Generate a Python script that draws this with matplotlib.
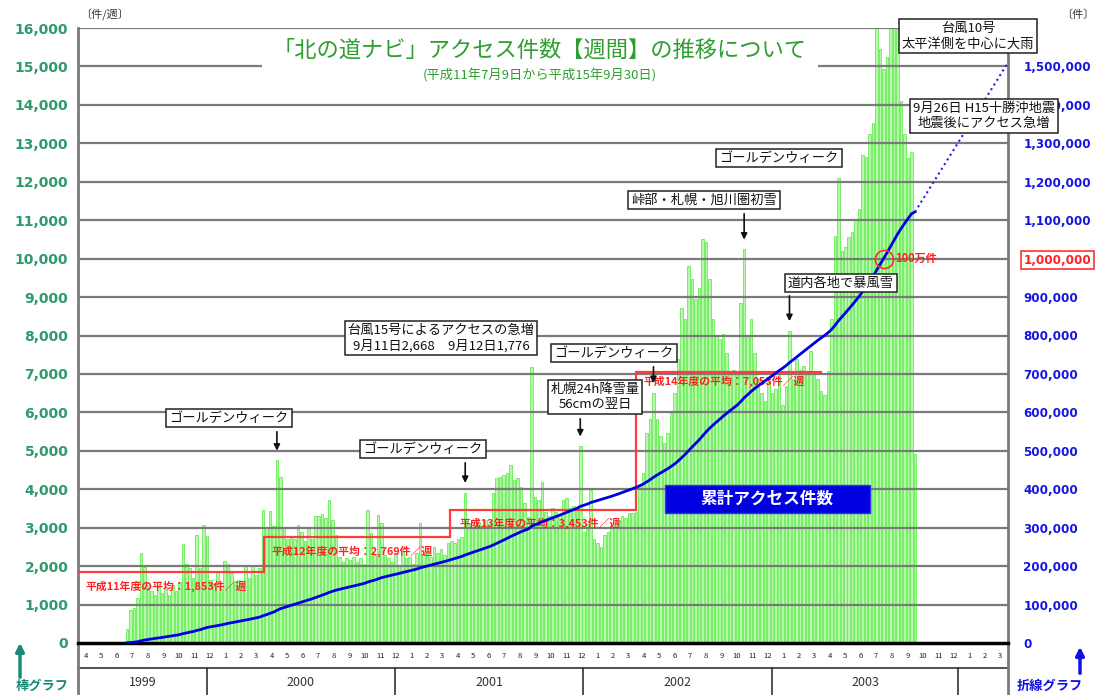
import numpy as np
import matplotlib
matplotlib.use("Agg")
import matplotlib.pyplot as plt
from matplotlib.patches import Rectangle, FancyArrowPatch

plt.rcParams['font.family'] = ['Noto Sans CJK JP', 'DejaVu Sans']

# weekly access counts, 1999-07-09 .. 2003-09-30
weekly = [
    370, 870, 900, 1170, 2340, 1970, 1500, 1350, 1250, 1450,
    1300, 1400, 1250, 1500, 1350, 1600, 2580, 2060, 1950, 1700,
    2820, 1950, 3060, 2780, 1650, 1550, 1870, 1400, 2130, 2060,
    1820, 1600, 1650, 1550, 2000, 1700, 2040, 1780, 1950, 3450,
    3000, 3430, 3040, 4750, 4310, 3000, 2700, 2750, 2700, 3060,
    2900, 2650, 2980, 2700, 3300, 3300, 3350, 3250, 3730, 3200,
    2800, 2250, 2100, 2200, 2150, 2250, 2100, 2200, 2050, 3460,
    2860, 2300, 3330, 3120, 2300, 2200, 2100, 2350, 2000, 2400,
    2200, 2250, 2050, 2350, 3130, 2300, 2400, 2250, 2500, 2350,
    2450, 2300, 2600, 2650, 2600, 2700, 2750, 3910, 3100, 3000,
    3200, 3150, 3050, 3200, 3100, 3900, 4290, 4330, 4370, 4420,
    4630, 4240, 4290, 4070, 3640, 3290, 7190, 3810, 3720, 4200,
    3400, 3300, 3500, 3400, 3350, 3720, 3770, 3500, 3560, 3500,
    5120, 2900, 3100, 3990, 2700, 2600, 2500, 2800, 2900, 3000,
    3040, 3200, 3300, 3250, 3380, 3380, 3400, 4080, 4430, 5470,
    5820, 6510, 5820, 5380, 5210, 5470, 5990, 6510, 7380, 8720,
    8420, 9810, 9460, 8940, 9240, 10500, 10420, 9460, 8420, 7990,
    7900, 8030, 7550, 7050, 7100, 7000, 8850, 10240, 7990, 8420,
    7550, 6900, 6500, 6300, 6800, 6500, 6600, 7030, 6200, 6680,
    8120, 6860, 7380, 7100, 7200, 7000, 7590, 7070, 6860, 6550,
    6450, 7070, 8420, 10600, 12090, 10190, 10300, 10550, 10700, 11000,
    11300, 12700, 12650, 13230, 13540, 16100, 15460, 14940, 15250, 16100,
    16100, 16100, 14110, 13230, 12610, 12770, 4920,
]

# fiscal year averages (件/週)
fy_edges = [0, 12, 24, 36, 48]
fy_avg = [1853, 2769, 3453, 7053]
fy_names = ['平成11年度', '平成12年度', '平成13年度', '平成14年度']

# projected cumulative total at end of March 2004
proj_x = 60
proj_total = 1510000

month_labels = ['4', '5', '6', '7', '8', '9', '10', '11', '12', '1', '2', '3'] * 5
years = ['1999', '2000', '2001', '2002', '2003', '']
year_edges = [0, 8.3, 20.45, 32.6, 44.8, 56.8, 60]

W, H = 1096, 695


def px(x, y):
    """pixel position -> (month, value) data coords"""
    return (x - 78) / 15.5, (643 - y) / 38.44 * 1000


fig = plt.figure(figsize=(W / 100, H / 100), dpi=100)
ax = fig.add_axes([78 / W, 52 / H, 930 / W, 615 / H])
ax2 = ax.twinx()
ax.set_zorder(ax2.get_zorder() + 1)
ax.patch.set_visible(False)

xpos = np.linspace(3.16, 54.0, len(weekly))
step = xpos[1] - xpos[0]
vals = np.array(weekly, dtype=float)
ax.bar(xpos, vals, width=step * 0.72, color='#b8f8ac', edgecolor='#66ec54',
       linewidth=0.6, zorder=1)

ax.set_xlim(0, 60)
ax.set_ylim(0, 16000)
ax2.set_ylim(0, 1600000)

# grid lines (drawn over the bars)
for v in range(1000, 16001, 1000):
    ax.axhline(v, color='#7a7a7a', lw=1.6, zorder=2)
# white patch behind the title
ax.add_patch(Rectangle(px(262, 86), (818 - 262) / 15.5, 50 / 38.44 * 1000,
                       facecolor='white', edgecolor='none', zorder=2.5))

# fiscal year average steps
ax.stairs(fy_avg, fy_edges, baseline=None, color='#ff3b3b', lw=1.6, zorder=3)
lab_pos = [(85, 586), (272, 551), (460, 523), (643, 381)]
for name, avg, (lx, ly) in zip(fy_names, fy_avg, lab_pos):
    ax.text(*px(lx, ly), f'{name}の平均：{avg:,}件／週', color='#ff2020',
            fontsize=7.8, fontweight='bold', ha='left', va='center', zorder=3)

# cumulative line (left scale = total / 100)
cum = np.cumsum(vals)
ax.plot(xpos, cum / 100, color='#0000e6', lw=2, zorder=4)
ax.plot([xpos[-1], proj_x], [cum[-1] / 100, proj_total / 100], color='#2020f0',
        lw=1.5, ls=':', zorder=4, clip_on=False)

# 1,000,000 crossing
i_m = int(np.argmax(cum >= 1000000))
ax.plot(xpos[i_m], 10000, 'o', ms=13, mfc='none', mec='#ff3030', mew=1.2, zorder=5)
ax.text(xpos[i_m] + 0.75, 10000, '100万件', color='#ff2020', fontsize=8,
        fontweight='bold', ha='left', va='center', zorder=5)

# axes styling
ax.spines['top'].set_visible(False)
ax.spines['left'].set_color('#7a7a7a')
ax.spines['left'].set_linewidth(2)
ax.spines['right'].set_color('#7a7a7a')
ax.spines['right'].set_linewidth(2)
ax.spines['bottom'].set_color('black')
ax.spines['bottom'].set_linewidth(2.5)
for s in ax2.spines.values():
    s.set_visible(False)

ax.set_xticks([])
ax.set_yticks(range(0, 16001, 1000))
ax.set_yticklabels([f'{v:,}' for v in range(0, 16001, 1000)])
ax.tick_params(axis='y', length=0, pad=7, labelsize=10, labelcolor='#2f9a6c')
for t in ax.get_yticklabels():
    t.set_fontweight('bold')
    t.set_family('DejaVu Sans')

rticks = list(range(0, 1500001, 100000))
ax2.set_yticks(rticks)
ax2.set_yticklabels([f'{v:,}' for v in rticks])
ax2.tick_params(axis='y', length=0, pad=11, labelsize=8.6, labelcolor='#1414e6')
for t, v in zip(ax2.get_yticklabels(), rticks):
    t.set_fontweight('bold')
    t.set_family('DejaVu Sans')
    if v == 1000000:
        t.set_color('#ff2020')
        t.set_bbox(dict(facecolor='white', edgecolor='#ff3030', lw=1.2, pad=2))

# title
ax.text(*px(540, 50), '「北の道ナビ」アクセス件数【週間】の推移について', color='#2e9e30',
        fontsize=16, ha='center', va='center', zorder=6)
ax.text(*px(540, 75), '(平成11年7月9日から平成15年9月30日)', color='#2e9e30',
        fontsize=9.5, ha='center', va='center', zorder=6)

box = dict(boxstyle='square,pad=0.22', facecolor='white', edgecolor='#222222', lw=1.1)
notes = [
    ('ゴールデンウィーク', 229, 418),
    ('ゴールデンウィーク', 423, 449),
    ('台風15号によるアクセスの急増\n9月11日2,668　9月12日1,776', 441, 338),
    ('ゴールデンウィーク', 614, 353),
    ('札幌24h降雪量\n56cmの翌日', 595, 397),
    ('峠部・札幌・旭川圏初雪', 704, 200),
    ('ゴールデンウィーク', 779, 158),
    ('道内各地で暴風雪', 841, 283),
    ('台風10号\n太平洋側を中心に大雨', 968, 36),
    ('9月26日 H15十勝沖地震\n地震後にアクセス急増', 984, 116),
]
for s, cx, cy in notes:
    ax.text(*px(cx, cy), s, fontsize=9.5, ha='center', va='center', bbox=box,
            zorder=7, linespacing=1.25, color='#111111', clip_on=False)

# arrows from the note boxes to the bars: (bar index, arrow start y in px)
arrows = [(43, 429), (97, 460), (130, 416), (151, 364), (177, 211), (190, 293)]
for i, sy in arrows:
    ax.annotate('', xy=(xpos[i], vals[i] + 180), xytext=(xpos[i], px(0, sy)[1]),
                arrowprops=dict(arrowstyle='-|>', color='#111111', lw=1.2,
                                mutation_scale=9), zorder=6)

# cumulative label box
x0, y0 = px(665, 513)
ax.add_patch(Rectangle((x0, y0), 205 / 15.5, 28 / 38.44 * 1000, facecolor='#0000e0',
                       edgecolor='#3030ff', lw=1, zorder=6))
ax.text(*px(767, 499), '累計アクセス件数', color='white', fontsize=12,
        fontweight='bold', ha='center', va='center', zorder=7)

# unit labels
fig.text(80 / W, 1 - 15 / H, '〔件/週〕', fontsize=8, color='#333333', ha='left', va='center')
fig.text(1078 / W, 1 - 15 / H, '〔件〕', fontsize=8, color='#333333', ha='center', va='center')

# bottom table: month row + year row
axb = fig.add_axes([78 / W, 0, 930 / W, 52 / H])
axb.set_xlim(0, 60)
axb.set_ylim(52, 0)
axb.axis('off')
for k, lab in enumerate(month_labels):
    axb.text(k + 0.5, 13, lab, fontsize=5.5, ha='center', va='center', color='#222222')
axb.plot([0, 60], [25, 25], color='#333333', lw=1.2, clip_on=False)
axb.plot([0, 0], [0, 52], color='#7a7a7a', lw=2, clip_on=False)
axb.plot([60, 60], [0, 52], color='#7a7a7a', lw=2, clip_on=False)
for e in year_edges[1:-1]:
    axb.plot([e, e], [25, 52], color='#333333', lw=1.2, clip_on=False)
for k, yl in enumerate(years):
    axb.text((year_edges[k] + year_edges[k + 1]) / 2, 39, yl, fontsize=9,
             ha='center', va='center', color='#333333')

# graph type labels
fig.add_artist(FancyArrowPatch((20 / W, 1 - 680 / H), (20 / W, 1 - 640 / H),
                               transform=fig.transFigure, arrowstyle='-|>',
                               mutation_scale=12, color='#1a8a7a', lw=2.5))
fig.text(42 / W, 1 - 686 / H, '棒グラフ', fontsize=9.5, fontweight='bold',
         color='#1a8a7a', ha='center', va='center')
fig.add_artist(FancyArrowPatch((1080 / W, 1 - 676 / H), (1080 / W, 1 - 644 / H),
                               transform=fig.transFigure, arrowstyle='-|>',
                               mutation_scale=12, color='#1010e6', lw=2.5))
fig.text(1050 / W, 1 - 686 / H, '折線グラフ', fontsize=9.5, fontweight='bold',
         color='#1010e6', ha='center', va='center')

print('final cumulative:', int(cum[-1]))
fig.savefig('out.png', dpi=100)
